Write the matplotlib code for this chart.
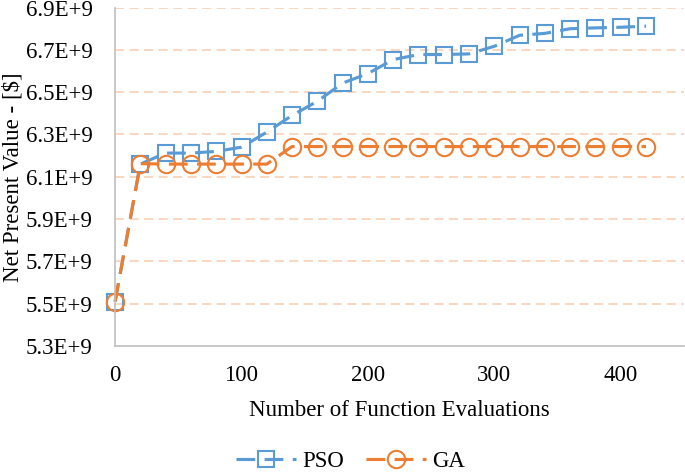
import numpy as np
import matplotlib.pyplot as plt
from matplotlib.ticker import FuncFormatter

plt.rcParams['font.family'] = ['Liberation Serif', 'DejaVu Serif']

# === DATA ===
evals = [0, 20, 40, 60, 80, 100, 120, 140, 160, 180, 200, 220,
         240, 260, 280, 300, 320, 340, 360, 380, 400, 420]
pso = [5.51, 6.160, 6.212, 6.212, 6.220, 6.240, 6.311, 6.390, 6.457, 6.543, 6.588,
       6.654, 6.678, 6.678, 6.681, 6.717, 6.769, 6.778, 6.800, 6.804, 6.807, 6.812]
ga = [5.51, 6.162, 6.160, 6.160, 6.160, 6.160, 6.160, 6.243, 6.243, 6.243, 6.243,
      6.243, 6.243, 6.243, 6.243, 6.243, 6.243, 6.243, 6.243, 6.243, 6.243, 6.243]
yticks = [5.3, 5.5, 5.7, 5.9, 6.1, 6.3, 6.5, 6.7, 6.9]

pso = np.array(pso) * 1e9
ga = np.array(ga) * 1e9

blue = '#5B9BD5'
orange = '#ED7D31'
dash = (6, 3)

fig = plt.figure(figsize=(6.85, 4.73), dpi=100)
ax = fig.add_axes([0.168, 0.2685, 0.8305, 0.7155])

ax.plot(evals, pso, color=blue, lw=2.25, dashes=dash, marker='s', markersize=12,
        markerfacecolor='none', markeredgecolor=blue, markeredgewidth=1.5,
        label='PSO', clip_on=False)
ax.plot(evals, ga, color=orange, lw=2.25, dashes=dash, marker='o', markersize=12.5,
        markerfacecolor='none', markeredgecolor=orange, markeredgewidth=1.5,
        label='GA', clip_on=False)

ax.set_xlim(0, 450)
ax.set_ylim(5.3e9, 6.9e9)
ax.set_xticks([0, 100, 200, 300, 400])
ax.set_yticks(np.array(yticks) * 1e9)
ax.yaxis.set_major_formatter(FuncFormatter(lambda v, p: f"{v/1e9:.1f}E+9"))
ax.tick_params(length=0, labelsize=16.5)
ax.tick_params(axis='y', pad=16)
ax.tick_params(axis='x', pad=14)

for yv in yticks[1:]:
    ax.axhline(yv * 1e9, color='#F8CBAD', lw=1.1, dashes=(6, 3.5), zorder=0)

for s in ['top', 'right']:
    ax.spines[s].set_visible(False)
for s in ['left', 'bottom']:
    ax.spines[s].set_color('#BFBFBF')
    ax.spines[s].set_linewidth(1.2)

ax.set_xlabel('Number of Function Evaluations', fontsize=16.5, labelpad=10)
ax.set_ylabel('Net Present Value - [$]', fontsize=16.5, labelpad=2)

fig.legend(loc='center', bbox_to_anchor=(0.512, 0.025), ncol=2, frameon=False,
           fontsize=16.5, handlelength=2.6, columnspacing=0.95, handletextpad=0.3)

fig.savefig('out.png', dpi=100)
